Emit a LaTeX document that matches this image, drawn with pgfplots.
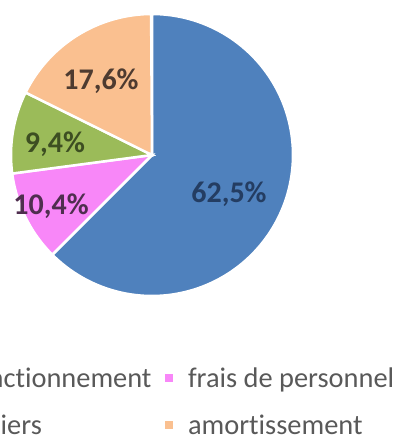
\documentclass[border=0pt]{standalone}
\usepackage{pgfplots}
\pgfplotsset{compat=1.18}
\usepackage{fontspec}
\setmainfont{Carlito}[Ligatures={NoCommon,NoRare,NoContextual}]
\definecolor{pieblue}{HTML}{4F81BD}
\definecolor{piepink}{HTML}{F887F8}
\definecolor{piegreen}{HTML}{9BBB59}
\definecolor{pieorange}{HTML}{FAC090}
\definecolor{lblblue}{HTML}{243D62}
\definecolor{lblpink}{HTML}{4F2E4F}
\definecolor{lblgreen}{HTML}{3D4E22}
\definecolor{lblorange}{HTML}{4E3B30}
\definecolor{leggray}{HTML}{595959}
\newcommand\ti{t\kern0pt i}

% shares in percent
\def\pfonc{62.5}
\def\ppers{10.4}
\def\pfin{9.4}
\def\pamort{17.6}

\begin{document}
\begin{tikzpicture}
\useasboundingbox (0,0) rectangle (402pt,439pt);
\clip (0,0) rectangle (402pt,439pt);
\pgfmathsetmacro\aA{90}
\pgfmathsetmacro\aB{\aA-3.6*\pfonc}
\pgfmathsetmacro\aC{\aB-3.6*\ppers}
\pgfmathsetmacro\aD{\aC-3.6*\pfin}
\pgfmathsetmacro\aE{\aD-3.6*\pamort}
\begin{axis}[
  at={(152pt,284pt)}, anchor=origin,
  scale only axis, width=282pt, height=282pt,
  xmin=-1, xmax=1, ymin=-1, ymax=1,
  hide axis, clip=false,
  legend columns=2,
  legend style={draw=none, fill=none, inner sep=0pt, outer sep=0pt,
    at={(-0.5745,-0.2518)}, anchor=north west,
    font=\fontsize{28.4}{30}\selectfont, text=leggray,
    nodes={inner sep=0pt, anchor=base west, text height=20pt, text depth=7pt},
    row sep=20pt,
    /tikz/every odd column/.style={column sep=13pt},
    /tikz/every even column/.style={column sep=11pt}},
  legend image code/.code={\fill (0pt,4pt) rectangle (10pt,14pt);},
  every axis plot/.append style={draw=white, line width=2.5pt, samples=120},
]
\addplot[fill=pieblue, domain=\aA:\aB] ({cos(x)},{sin(x)}) -- (axis cs:0,0) -- cycle;
\addlegendentry{frais de fonc\ti onnement}
\addplot[fill=piepink, domain=\aB:\aC] ({cos(x)},{sin(x)}) -- (axis cs:0,0) -- cycle;
\addlegendentry{frais de personnel}
\addplot[fill=piegreen, domain=\aC:\aD] ({cos(x)},{sin(x)}) -- (axis cs:0,0) -- cycle;
\addlegendentry{frais financiers}
\addplot[fill=pieorange, domain=\aD:\aE] ({cos(x)},{sin(x)}) -- (axis cs:0,0) -- cycle;
\addlegendentry{amor\ti ssement}

\begin{scope}[every node/.style={font=\fontsize{30}{30}\selectfont\bfseries}]
\node[text=lblblue] at (axis cs:0.546,-0.277) {62,5\%};
\node[text=lblpink] at (axis cs:-0.716,-0.362) {10,4\%};
\node[text=lblgreen] at (axis cs:-0.688,0.078) {9,4\%};
\node[text=lblorange] at (axis cs:-0.362,0.525) {17,6\%};
\end{scope}
\end{axis}
\end{tikzpicture}
\end{document}
